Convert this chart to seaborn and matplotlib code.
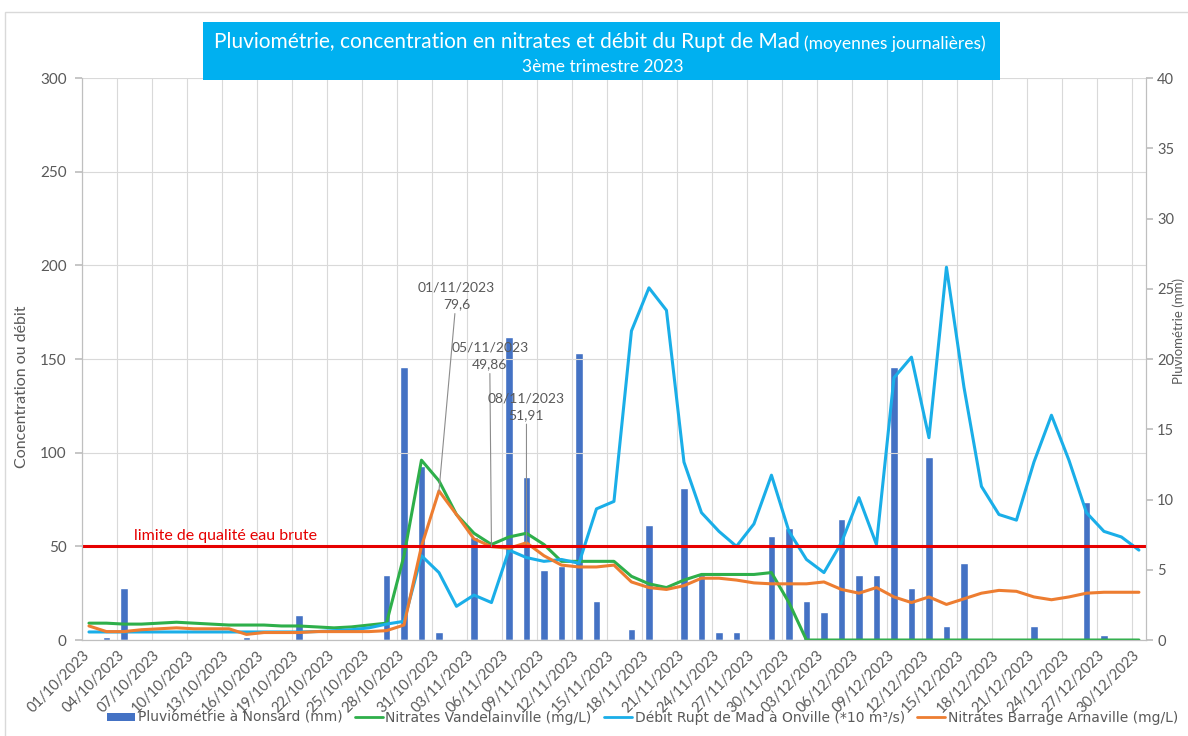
import numpy as np
import pandas as pd
import matplotlib.pyplot as plt
import seaborn as sns
from matplotlib.patches import Rectangle, Patch
from matplotlib.lines import Line2D

# tick labels (one every 2 categories)
tick_labels = ['01/10/2023', '04/10/2023', '07/10/2023', '10/10/2023', '13/10/2023', '16/10/2023',
               '19/10/2023', '22/10/2023', '25/10/2023', '28/10/2023', '31/10/2023', '03/11/2023',
               '06/11/2023', '09/11/2023', '12/11/2023', '15/11/2023', '18/11/2023', '21/11/2023',
               '24/11/2023', '27/11/2023', '30/11/2023', '03/12/2023', '06/12/2023', '09/12/2023',
               '12/12/2023', '15/12/2023', '18/12/2023', '21/12/2023', '24/12/2023', '27/12/2023',
               '30/12/2023']

# rainfall (mm), right axis
pluvio = [0, 0.2, 3.7, 0, 0, 0, 0, 0, 0, 0.2,
          0, 0, 1.8, 0, 0, 0, 0, 4.6, 19.4, 12.4,
          0.6, 0, 7.3, 0.1, 21.6, 11.6, 5.0, 5.3, 20.4, 2.8,
          0, 0.8, 8.2, 0.1, 10.8, 4.6, 0.6, 0.6, 0, 7.4,
          8.0, 2.8, 2.0, 8.6, 4.6, 4.6, 19.4, 3.7, 13.0, 1.0,
          5.5, 0, 0.1, 0, 1.0, 0.1, 0, 9.8, 0.35, 0.1,
          0]

nitrates_vandel = [9, 9, 8.5, 8.5, 9, 9.5, 9, 8.5, 8, 8,
                   8, 7.5, 7.5, 7, 6.5, 7, 8, 9, 45, 96,
                   85, 67, 57, 51, 55, 57, 51, 42, 42, 42,
                   42, 34, 30, 28, 32, 35, 35, 35, 35, 36,
                   20, 0, 0, 0, 0, 0, 0, 0, 0, 0,
                   0, 0, 0, 0, 0, 0, 0, 0, 0, 0,
                   0]

debit = [4.3, 4.3, 4.3, 4.3, 4.3, 4.3, 4.3, 4.3, 4.3, 4.3,
         4.3, 4.3, 4.3, 4.5, 5, 5.5, 6.5, 8.5, 10, 45,
         36, 18, 24, 20, 48, 44, 42, 43, 41, 70,
         74, 165, 188, 176, 95, 68, 58, 50, 62, 88,
         58, 43, 36, 52, 76, 51, 140, 151, 108, 199,
         135, 82, 67, 64, 95, 120, 96, 68, 58, 55,
         48]

nitrates_arna = [7.5, 4.5, 4.5, 5.5, 6, 6.5, 6, 6, 6, 3,
                 4, 4, 4, 4.5, 4.5, 4.5, 4.5, 5, 8, 50,
                 79.6, 67, 54, 49.86, 49, 51.91, 45, 40, 39, 39,
                 40, 31, 28, 27, 29, 33, 33, 32, 30.5, 30,
                 30, 30, 31, 27, 25, 28, 23, 20, 23, 19,
                 22, 25, 26.5, 26, 23, 21.5, 23, 25, 25.5, 25.5,
                 25.5]

limite = 50
annot_idx = [20, 23, 25]
annot_dates = ['01/11/2023', '05/11/2023', '08/11/2023']
annot_text_pos = [(21.4, 176), (23.3, 144), (25.4, 117)]

df = pd.DataFrame({'pos': np.arange(len(pluvio)) + 0.4, 'pluvio': pluvio,
                   'vandel': nitrates_vandel, 'debit': debit, 'arna': nitrates_arna})

c_bar = '#4472C4'
c_green = '#2EAF4A'
c_blue = '#1AAEE8'
c_orange = '#ED7D31'
c_red = '#E60000'
c_txt = '#595959'

sns.set_theme(style='white')
plt.rcParams['font.family'] = ['Lato', 'DejaVu Sans']

fig = plt.figure(figsize=(11.88, 7.36), dpi=100)
ax = fig.add_axes([0.069, 0.1304, 0.8956, 0.7636])
ax2 = ax.twinx()
ax.set_zorder(ax2.get_zorder() + 1)
ax.patch.set_visible(False)

sns.barplot(data=df, x='pos', y='pluvio', native_scale=True, color=c_bar, width=0.42,
            errorbar=None, saturation=1, ax=ax2)
sns.lineplot(data=df, x='pos', y='vandel', color=c_green, lw=2.2, ax=ax)
sns.lineplot(data=df, x='pos', y='debit', color=c_blue, lw=2.2, ax=ax)
sns.lineplot(data=df, x='pos', y='arna', color=c_orange, lw=2.2, ax=ax)
ax.axhline(limite, color=c_red, lw=2.2)
ax.text(3.0, limite + 2, 'limite de qualité eau brute', color=c_red, fontsize=11.5, va='bottom')

for i, d, tp in zip(annot_idx, annot_dates, annot_text_pos):
    ax.annotate('%s\n%s' % (d, str(nitrates_arna[i]).replace('.', ',')),
                xy=(df['pos'][i], nitrates_arna[i]), xytext=tp, textcoords='data',
                ha='center', va='bottom', fontsize=10, color=c_txt, linespacing=1.45,
                arrowprops=dict(arrowstyle='-', color='#8C8C8C', lw=0.8, shrinkA=0, shrinkB=0))

ax.set_xlim(0, 60.8)
ax.set_ylim(0, 300)
ax2.set_ylim(0, 40)
ax.set_yticks(np.arange(0, 301, 50))
ax2.set_yticks(np.arange(0, 41, 5))
ax.set_xticks(np.arange(0, 61, 2))
ax.set_xticklabels(tick_labels, rotation=45, ha='right', rotation_mode='anchor')
ax.tick_params(axis='x', labelsize=10.5, colors=c_txt, length=4, color='#BFBFBF', pad=2)
ax.tick_params(axis='y', labelsize=11, colors=c_txt, length=5, color='#BFBFBF', pad=6)
ax2.tick_params(axis='y', labelsize=10.5, colors=c_txt, length=5, color='#BFBFBF', pad=3)
ax.grid(True, color='#D9D9D9', lw=0.8)
ax2.grid(False)
ax.set_xlabel('')
ax2.set_xlabel('')
ax.set_ylabel('Concentration ou débit', fontsize=11.5, color=c_txt)
ax.yaxis.set_label_coords(-0.05, 0.45)
ax2.set_ylabel('Pluviométrie (mm)', fontsize=9.5, color=c_txt, va='center')
ax2.yaxis.set_label_coords(1.0305, 0.55)
for a in (ax, ax2):
    a.spines['top'].set_visible(False)
    for s in ('left', 'right', 'bottom'):
        a.spines[s].set_color('#BFBFBF')
        a.spines[s].set_linewidth(0.8)

# title box
fig.patches.append(Rectangle((0.171, 0.891), 0.671, 0.079, transform=fig.transFigure,
                             facecolor='#00B0F0', edgecolor='none', zorder=5))
fig.text(0.673, 0.943, 'Pluviométrie, concentration en nitrates et débit du Rupt de Mad',
         ha='right', va='center', color='white', fontsize=15, zorder=6)
fig.text(0.677, 0.941, '(moyennes journalières)', ha='left', va='center', color='white',
         fontsize=12.5, zorder=6)
fig.text(0.507, 0.909, '3ème trimestre 2023', ha='center', va='center', color='white',
         fontsize=12.5, zorder=6)

# chart border
fig.patches.append(Rectangle((0.004, -0.01), 1.2, 0.994, transform=fig.transFigure,
                             facecolor='none', edgecolor='#D9D9D9', lw=1))

handles = [Patch(facecolor=c_bar, edgecolor='none'),
           Line2D([], [], color=c_green, lw=2),
           Line2D([], [], color=c_blue, lw=2),
           Line2D([], [], color=c_orange, lw=2)]
labels = ['Pluviométrie à Nonsard (mm)', 'Nitrates Vandelainville (mg/L)',
          'Débit Rupt de Mad à Onville (*10 m³/s)', 'Nitrates Barrage Arnaville (mg/L)']
fig.legend(handles, labels, loc='center', bbox_to_anchor=(0.541, 0.025), ncol=4, frameon=False,
           prop={'family': 'DejaVu Sans', 'size': 10}, handlelength=2.0, handleheight=0.5,
           handletextpad=0.2, columnspacing=0.9, borderpad=0, labelcolor=c_txt)

fig.savefig('out.png', dpi=100)
